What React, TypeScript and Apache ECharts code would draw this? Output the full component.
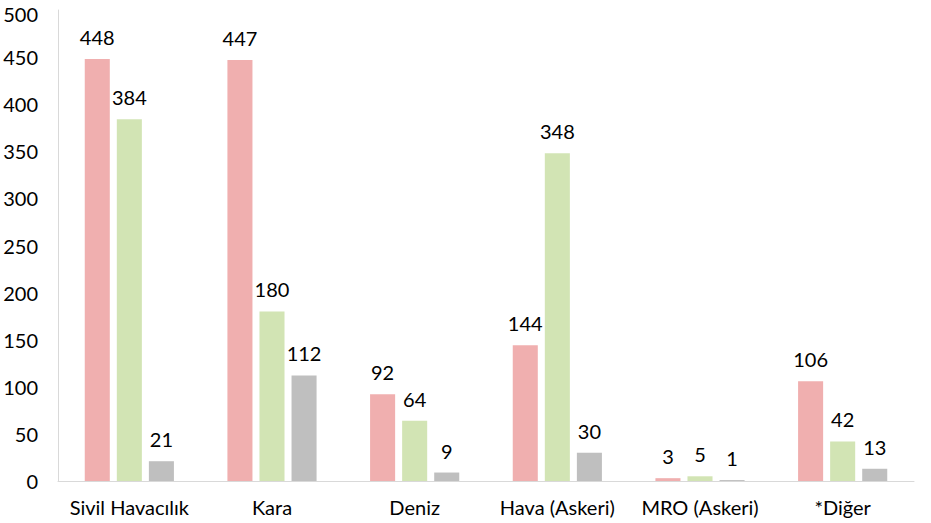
import React, { useEffect, useRef } from "react";
import * as echarts from "echarts";

const categories = ["Sivil Havacılık", "Kara", "Deniz", "Hava (Askeri)", "MRO (Askeri)", "*Diğer"];
const seriesA = [448, 447, 92, 144, 3, 106];
const seriesB = [384, 180, 64, 348, 5, 42];
const seriesC = [21, 112, 9, 30, 1, 13];
const colors = ["#F0AFAF", "#D2E4B4", "#BFBFBF"];

const FONT = "Lato, 'Open Sans', sans-serif";

export default function App() {
  const ref = useRef<HTMLDivElement>(null);
  useEffect(() => {
    if (!ref.current) return;
    const chart = echarts.init(ref.current, undefined, { renderer: "svg" });
    const mk = (name: string, data: number[], color: string) => ({
      name,
      type: "bar",
      data,
      itemStyle: { color },
      barGap: "28%",
      barCategoryGap: "37.5%",
      label: {
        show: true,
        position: "top",
        distance: 12,
        color: "#000",
        fontSize: 20,
        fontFamily: FONT,
      },
    });
    chart.setOption({
      animation: false,
      textStyle: { fontFamily: FONT },
      grid: { left: 58, right: 17, top: 10, bottom: 42 },
      xAxis: {
        type: "category",
        data: categories,
        axisLine: { show: true, lineStyle: { color: "#D9D9D9", width: 1 } },
        axisTick: { show: false },
        axisLabel: { color: "#000", fontSize: 20, fontFamily: FONT, margin: 16, interval: 0 },
      },
      yAxis: {
        type: "value",
        min: 0,
        max: 500,
        interval: 50,
        axisLine: { show: true, lineStyle: { color: "#D9D9D9", width: 1 } },
        axisTick: { show: false },
        splitLine: { show: false },
        axisLabel: {
          color: "#000",
          fontSize: 20,
          fontFamily: FONT,
          margin: 20,
          formatter: (v: number) => (v === 500 ? "{t|" + v + "}" : "{n|" + v + "}"),
          rich: {
            t: { fontSize: 20, fontFamily: FONT, color: "#000", padding: [8, 0, 0, 0] },
            n: { fontSize: 20, fontFamily: FONT, color: "#000" },
          },
        },
      },
      series: [mk("A", seriesA, colors[0]), mk("B", seriesB, colors[1]), mk("C", seriesC, colors[2])],
    });
    return () => chart.dispose();
  }, []);
  return (
    <div
      ref={ref}
      style={{ position: "absolute", left: 0, top: 0, width: 931, height: 523 }}
    />
  );
}
